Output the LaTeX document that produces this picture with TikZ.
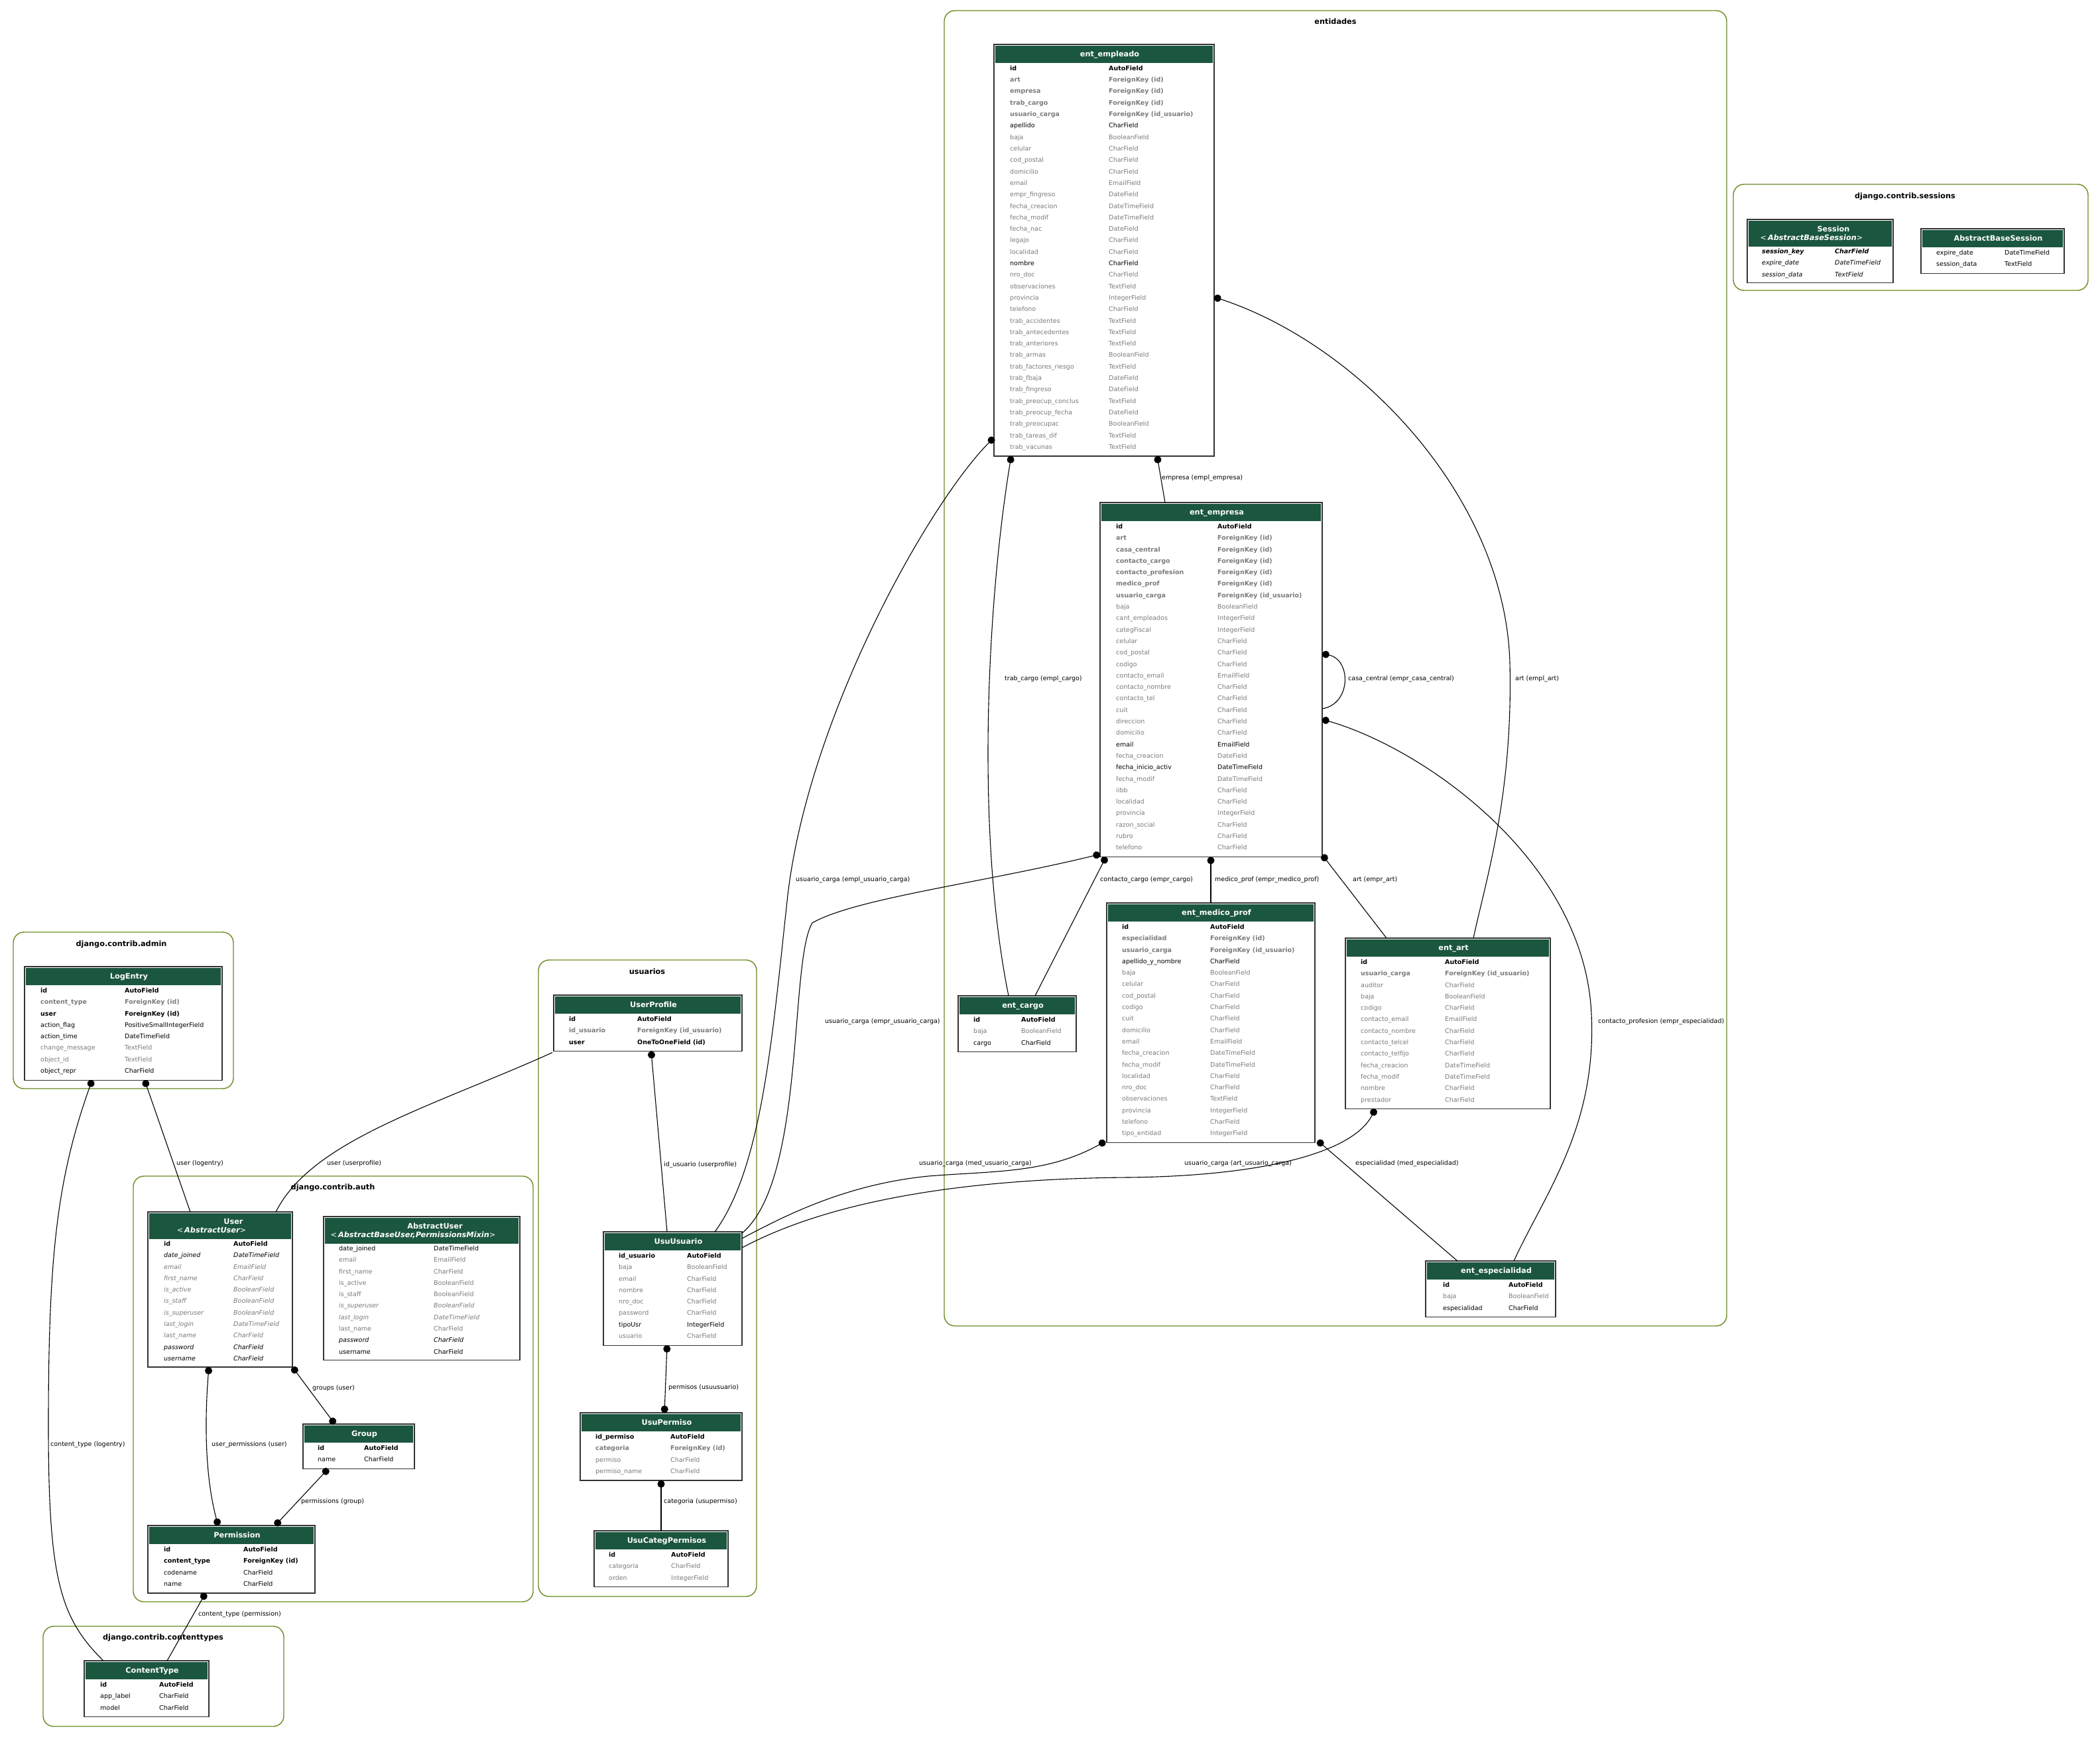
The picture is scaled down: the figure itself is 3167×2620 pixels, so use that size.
\documentclass[tikz,border=0pt]{standalone}
\usepackage{fontspec}
\setmainfont{DejaVu Sans}
\usetikzlibrary{arrows.meta,calc}

\definecolor{hdrgreen}{HTML}{1B563F}
\definecolor{fgray}{HTML}{7B7B7B}
\definecolor{clusterline}{HTML}{698B22}

% field kinds
\newcommand\rowPK{\bfseries}
\newcommand\rowFK{\bfseries\color{fgray}}
\newcommand\rowN{}
\newcommand\rowG{\color{fgray}}
\newcommand\rowI{\itshape}
\newcommand\rowIG{\itshape\color{fgray}}
\newcommand\rowBI{\bfseries\itshape}

\tikzset{
  tbox/.style={draw=black!80, line width=1.2pt, fill=white, inner sep=0pt, outer sep=0pt},
  hdrfill/.style={fill=hdrgreen},
  hdrtext/.style={text=white, font=\fontsize{11.3}{13}\selectfont\bfseries, inner sep=0pt},
  cell/.style={font=\fontsize{9.5}{11}\selectfont, inner sep=0pt},
  clusterbox/.style={draw=clusterline, line width=1.4pt, rounded corners=16pt},
  clustertitle/.style={font=\fontsize{11.3}{13}\selectfont\bfseries, inner sep=0pt, anchor=base},
  conn/.style={draw=black, line width=1.1pt},
  fkconn/.style={conn, {Circle[length=11pt]}-},
  mmconn/.style={conn, {Circle[length=11pt]}-{Circle[length=11pt]}},
  elabel/.style={font=\fontsize{9.5}{11}\selectfont, inner sep=0pt, anchor=west},
}

% box with header band: name, x, y, width, height, header height
\newcommand{\tablebox}[6]{%
  \node[tbox, minimum width=#4, minimum height=#5, anchor=north west] (#1) at (#2,#3) {};
  \fill[hdrfill] ($(#1.north west)+(2,2)$) rectangle ($(#1.north east)+(-2,#6)$);
}
% header text: name, x centre, baseline y, text
\newcommand{\tabletitle}[4]{%
  \node[hdrtext, anchor=base] (#1) at (#2,#3) {#4};
}
% field rows: name, x of key column, x of type column, first row centre, rows
\newcommand{\tablerows}[5]{%
  \foreach \st/\ka/\kb [count=\i from 0] in {#5}{
    \node[cell, anchor=base west] (#1-k\i) at (#2, {#4+\i*17.3+3.4}) {\st\ka};
    \node[cell, anchor=base west] (#1-t\i) at (#3, {#4+\i*17.3+3.4}) {\st\kb};
  }%
}

\begin{document}
\begin{tikzpicture}[x=1pt, y=-1pt]
\fill[white] (0,0) rectangle (3167,2620);
\useasboundingbox (0,0) rectangle (3167,2620);

% ---------------- clusters ----------------
\draw[clusterbox] (1424,16) rectangle (2604,2000);
\node[clustertitle] (cl-ent) at (2014,37) {entidades};
\draw[clusterbox] (2614,278) rectangle (3149,438);
\node[clustertitle] (cl-ses) at (2873,299) {django.contrib.sessions};
\draw[clusterbox] (20,1406) rectangle (352,1642);
\node[clustertitle] (cl-adm) at (183,1427) {django.contrib.admin};
\draw[clusterbox] (812,1448) rectangle (1141,2408);
\node[clustertitle] (cl-usu) at (976,1469) {usuarios};
\draw[clusterbox] (201,1774) rectangle (804,2416);
\node[clustertitle] (cl-auth) at (502,1794) {django.contrib.auth};
\draw[clusterbox] (65,2453) rectangle (428,2604);
\node[clustertitle] (cl-ct) at (246,2473) {django.contrib.contenttypes};

% ---------------- entidades ----------------
\tablebox{empleado}{1499}{67}{332}{620.9}{28}
\tabletitle{empleado-h}{1673.5}{85.5}{ent\_empleado}
\tablerows{empleado}{1523}{1672}{103}{
  \rowPK/id/AutoField,
  \rowFK/art/ForeignKey (id),
  \rowFK/empresa/ForeignKey (id),
  \rowFK/trab\_cargo/ForeignKey (id),
  \rowFK/usuario\_carga/ForeignKey (id\_usuario),
  \rowN/apellido/CharField,
  \rowG/baja/BooleanField,
  \rowG/celular/CharField,
  \rowG/cod\_postal/CharField,
  \rowG/domicilio/CharField,
  \rowG/email/EmailField,
  \rowG/empr\_fingreso/DateField,
  \rowG/fecha\_creacion/DateTimeField,
  \rowG/fecha\_modif/DateTimeField,
  \rowG/fecha\_nac/DateField,
  \rowG/legajo/CharField,
  \rowG/localidad/CharField,
  \rowN/nombre/CharField,
  \rowG/nro\_doc/CharField,
  \rowG/observaciones/TextField,
  \rowG/provincia/IntegerField,
  \rowG/telefono/CharField,
  \rowG/trab\_accidentes/TextField,
  \rowG/trab\_antecedentes/TextField,
  \rowG/trab\_anteriores/TextField,
  \rowG/trab\_armas/BooleanField,
  \rowG/trab\_factores\_riesgo/TextField,
  \rowG/trab\_fbaja/DateField,
  \rowG/trab\_fingreso/DateField,
  \rowG/trab\_preocup\_conclus/TextField,
  \rowG/trab\_preocup\_fecha/DateField,
  \rowG/trab\_preocupac/BooleanField,
  \rowG/trab\_tareas\_dif/TextField,
  \rowG/trab\_vacunas/TextField}

\tablebox{empresa}{1659}{758}{335}{534.4}{28}
\tabletitle{empresa-h}{1835}{776.5}{ent\_empresa}
\tablerows{empresa}{1683}{1836}{794}{
  \rowPK/id/AutoField,
  \rowFK/art/ForeignKey (id),
  \rowFK/casa\_central/ForeignKey (id),
  \rowFK/contacto\_cargo/ForeignKey (id),
  \rowFK/contacto\_profesion/ForeignKey (id),
  \rowFK/medico\_prof/ForeignKey (id),
  \rowFK/usuario\_carga/ForeignKey (id\_usuario),
  \rowG/baja/BooleanField,
  \rowG/cant\_empleados/IntegerField,
  \rowG/categFiscal/IntegerField,
  \rowG/celular/CharField,
  \rowG/cod\_postal/CharField,
  \rowG/codigo/CharField,
  \rowG/contacto\_email/EmailField,
  \rowG/contacto\_nombre/CharField,
  \rowG/contacto\_tel/CharField,
  \rowG/cuit/CharField,
  \rowG/direccion/CharField,
  \rowG/domicilio/CharField,
  \rowN/email/EmailField,
  \rowG/fecha\_creacion/DateField,
  \rowN/fecha\_inicio\_activ/DateTimeField,
  \rowG/fecha\_modif/DateTimeField,
  \rowG/iibb/CharField,
  \rowG/localidad/CharField,
  \rowG/provincia/IntegerField,
  \rowG/razon\_social/CharField,
  \rowG/rubro/CharField,
  \rowG/telefono/CharField}

\tablebox{medico}{1669}{1362}{314}{361.4}{28}
\tabletitle{medico-h}{1834.5}{1380.5}{ent\_medico\_prof}
\tablerows{medico}{1692}{1825}{1398}{
  \rowPK/id/AutoField,
  \rowFK/especialidad/ForeignKey (id),
  \rowFK/usuario\_carga/ForeignKey (id\_usuario),
  \rowN/apellido\_y\_nombre/CharField,
  \rowG/baja/BooleanField,
  \rowG/celular/CharField,
  \rowG/cod\_postal/CharField,
  \rowG/codigo/CharField,
  \rowG/cuit/CharField,
  \rowG/domicilio/CharField,
  \rowG/email/EmailField,
  \rowG/fecha\_creacion/DateTimeField,
  \rowG/fecha\_modif/DateTimeField,
  \rowG/localidad/CharField,
  \rowG/nro\_doc/CharField,
  \rowG/observaciones/TextField,
  \rowG/provincia/IntegerField,
  \rowG/telefono/CharField,
  \rowG/tipo\_entidad/IntegerField}

\tablebox{art}{2029}{1415}{309}{257.6}{28}
\tabletitle{art-h}{2192}{1433.5}{ent\_art}
\tablerows{art}{2052}{2179}{1451}{
  \rowPK/id/AutoField,
  \rowFK/usuario\_carga/ForeignKey (id\_usuario),
  \rowG/auditor/CharField,
  \rowG/baja/BooleanField,
  \rowG/codigo/CharField,
  \rowG/contacto\_email/EmailField,
  \rowG/contacto\_nombre/CharField,
  \rowG/contacto\_telcel/CharField,
  \rowG/contacto\_telfijo/CharField,
  \rowG/fecha\_creacion/DateTimeField,
  \rowG/fecha\_modif/DateTimeField,
  \rowG/nombre/CharField,
  \rowG/prestador/CharField}

\tablebox{cargo}{1445}{1502}{178}{84.6}{28}
\tabletitle{cargo-h}{1542.5}{1520.5}{ent\_cargo}
\tablerows{cargo}{1468}{1540}{1538}{
  \rowPK/id/AutoField,
  \rowG/baja/BooleanField,
  \rowN/cargo/CharField}

\tablebox{especialidad}{2150}{1902}{196}{84.6}{28}
\tabletitle{especialidad-h}{2256.5}{1920.5}{ent\_especialidad}
\tablerows{especialidad}{2176}{2275}{1938}{
  \rowPK/id/AutoField,
  \rowG/baja/BooleanField,
  \rowN/especialidad/CharField}

% ---------------- sessions ----------------
\tablebox{session}{2635}{331}{220}{95.6}{41}
\tabletitle{session-h1}{2765}{349}{Session}
\tabletitle{session-h2}{2732}{362}{{\mdseries<\,}{\itshape AbstractBaseSession}{\mdseries>}}
\tablerows{session}{2657}{2767}{379}{
  \rowBI/session\_key/CharField,
  \rowI/expire\_date/DateTimeField,
  \rowI/session\_data/TextField}

\tablebox{absession}{2897}{345}{216}{67.3}{28}
\tabletitle{absession-h}{3013.5}{363.5}{AbstractBaseSession}
\tablerows{absession}{2920}{3023}{381}{
  \rowN/expire\_date/DateTimeField,
  \rowN/session\_data/TextField}

% ---------------- admin ----------------
\tablebox{logentry}{37}{1458}{298}{171.1}{28}
\tabletitle{logentry-h}{194.5}{1476.5}{LogEntry}
\tablerows{logentry}{61}{188}{1494}{
  \rowPK/id/AutoField,
  \rowFK/content\_type/ForeignKey (id),
  \rowPK/user/ForeignKey (id),
  \rowN/action\_flag/PositiveSmallIntegerField,
  \rowN/action\_time/DateTimeField,
  \rowG/change\_message/TextField,
  \rowG/object\_id/TextField,
  \rowN/object\_repr/CharField}

% ---------------- auth ----------------
\tablebox{user}{223}{1828}{218}{234}{41}
\tabletitle{user-h1}{352}{1846}{User}
\tabletitle{user-h2}{319}{1859}{{\mdseries<\,}{\itshape AbstractUser}{\mdseries>}}
\tablerows{user}{247}{352}{1876}{
  \rowPK/id/AutoField,
  \rowI/date\_joined/DateTimeField,
  \rowIG/email/EmailField,
  \rowIG/first\_name/CharField,
  \rowIG/is\_active/BooleanField,
  \rowIG/is\_staff/BooleanField,
  \rowIG/is\_superuser/BooleanField,
  \rowIG/last\_login/DateTimeField,
  \rowIG/last\_name/CharField,
  \rowI/password/CharField,
  \rowI/username/CharField}

\tablebox{abuser}{488}{1835}{296}{216.7}{41}
\tabletitle{abuser-h1}{656}{1853}{AbstractUser}
\tabletitle{abuser-h2}{623}{1866}{{\mdseries<\,}{\itshape AbstractBaseUser,PermissionsMixin}{\mdseries>}}
\tablerows{abuser}{511}{654}{1883}{
  \rowN/date\_joined/DateTimeField,
  \rowG/email/EmailField,
  \rowG/first\_name/CharField,
  \rowG/is\_active/BooleanField,
  \rowG/is\_staff/BooleanField,
  \rowIG/is\_superuser/BooleanField,
  \rowIG/last\_login/DateTimeField,
  \rowG/last\_name/CharField,
  \rowI/password/CharField,
  \rowN/username/CharField}

\tablebox{group}{457}{2148}{168}{67.3}{28}
\tabletitle{group-h}{549.5}{2166.5}{Group}
\tablerows{group}{479}{549}{2184}{
  \rowPK/id/AutoField,
  \rowN/name/CharField}

\tablebox{permission}{223}{2301}{252}{101.9}{28}
\tabletitle{permission-h}{357.5}{2319.5}{Permission}
\tablerows{permission}{247}{367}{2337}{
  \rowPK/id/AutoField,
  \rowPK/content\_type/ForeignKey (id),
  \rowN/codename/CharField,
  \rowN/name/CharField}

% ---------------- contenttypes ----------------
\tablebox{contenttype}{127}{2505}{188}{84.6}{28}
\tabletitle{contenttype-h}{229.5}{2523.5}{ContentType}
\tablerows{contenttype}{151}{240}{2541}{
  \rowPK/id/AutoField,
  \rowN/app\_label/CharField,
  \rowN/model/CharField}

% ---------------- usuarios ----------------
\tablebox{userprofile}{835}{1501}{284}{84.6}{28}
\tabletitle{userprofile-h}{985.5}{1519.5}{UserProfile}
\tablerows{userprofile}{858}{961}{1537}{
  \rowPK/id/AutoField,
  \rowFK/id\_usuario/ForeignKey (id\_usuario),
  \rowPK/user/OneToOneField (id)}

\tablebox{usuusuario}{910}{1858}{209}{171.1}{28}
\tabletitle{usuusuario-h}{1023}{1876.5}{UsuUsuario}
\tablerows{usuusuario}{933}{1036}{1894}{
  \rowPK/id\_usuario/AutoField,
  \rowG/baja/BooleanField,
  \rowG/email/CharField,
  \rowG/nombre/CharField,
  \rowG/nro\_doc/CharField,
  \rowG/password/CharField,
  \rowN/tipoUsr/IntegerField,
  \rowG/usuario/CharField}

\tablebox{usupermiso}{875}{2131}{244}{101.9}{28}
\tabletitle{usupermiso-h}{1005.5}{2149.5}{UsuPermiso}
\tablerows{usupermiso}{898}{1011}{2167}{
  \rowPK/id\_permiso/AutoField,
  \rowFK/categoria/ForeignKey (id),
  \rowG/permiso/CharField,
  \rowG/permiso\_name/CharField}

\tablebox{usucateg}{896}{2309}{202}{84.6}{28}
\tabletitle{usucateg-h}{1005.5}{2327.5}{UsuCategPermisos}
\tablerows{usucateg}{918}{1012}{2345}{
  \rowPK/id/AutoField,
  \rowG/categoria/CharField,
  \rowG/orden/IntegerField}

% ---------------- relations ----------------
% ent_empleado
\draw[fkconn] ($(empleado.south west)+(246,0)$) -- ($(empresa.north west)+(98,0)$);
\node[elabel] (l-empl-empresa) at (1752,721) {empresa (empl\_empresa)};

\draw[fkconn] ($(empleado.south west)+(26,0)$) .. controls (1490,900) and (1470,1250) .. ($(cargo.north west)+(76,0)$);
\node[elabel] (l-empl-cargo) at (1515,1024) {trab\_cargo (empl\_cargo)};

\draw[fkconn] ($(empleado.north west)+(0,593)$) .. controls (1400,760) and (1220,1080) .. (1188,1350)
  .. controls (1165,1560) and (1150,1760) .. ($(usuusuario.north west)+(168,0)$);
\node[elabel] (l-empl-usu) at (1200,1327) {usuario\_carga (empl\_usuario\_carga)};

\draw[fkconn] ($(empleado.north east)+(0,381)$) .. controls (2050,520) and (2270,750) .. (2277,1000)
  .. controls (2282,1200) and (2240,1330) .. ($(art.north west)+(193,0)$);
\node[elabel] (l-empl-art) at (2285,1024) {art (empl\_art)};

% ent_empresa
\draw[fkconn] ($(empresa.north east)+(0,228)$) .. controls (2038,995) and (2038,1062) .. ($(empresa.north east)+(0,311)$);
\node[elabel] (l-empr-casa) at (2033,1024) {casa\_central (empr\_casa\_central)};

\draw[fkconn] ($(empresa.north east)+(0,327)$) .. controls (2150,1130) and (2390,1300) .. (2400,1530)
  .. controls (2408,1700) and (2330,1800) .. ($(especialidad.north west)+(133,0)$);
\node[elabel] (l-empr-esp) at (2410,1541) {contacto\_profesion (empr\_especialidad)};

\draw[fkconn] ($(empresa.south east)+(0,-3)$) -- ($(art.north west)+(62,0)$);
\node[elabel] (l-empr-art) at (2040,1327) {art (empr\_art)};

\draw[fkconn] ($(empresa.south west)+(167,0)$) -- ($(medico.north west)+(157,0)$);
\node[elabel] (l-empr-med) at (1832,1327) {medico\_prof (empr\_medico\_prof)};

\draw[fkconn] ($(empresa.south west)+(9,0)$) -- ($(cargo.north west)+(116,0)$);
\node[elabel] (l-empr-cargo) at (1659,1327) {contacto\_cargo (empr\_cargo)};

\draw[fkconn] ($(empresa.south west)+(0,-4)$) .. controls (1480,1332) and (1290,1355) .. (1225,1392)
  .. controls (1190,1450) and (1215,1780) .. ($(usuusuario.north east)+(0,2)$);
\node[elabel] (l-empr-usu) at (1244,1541) {usuario\_carga (empr\_usuario\_carga)};

% ent_medico_prof
\draw[fkconn] ($(medico.south west)+(-2,-2)$) .. controls (1580,1770) and (1500,1766) .. (1400,1774)
  .. controls (1280,1786) and (1190,1830) .. ($(usuusuario.north east)+(0,10)$);
\node[elabel] (l-med-usu) at (1386,1755) {usuario\_carga (med\_usuario\_carga)};

\draw[fkconn] ($(medico.south east)+(4,-3)$) -- ($(especialidad.north west)+(48,0)$);
\node[elabel] (l-med-esp) at (2044,1755) {especialidad (med\_especialidad)};

% ent_art
\draw[fkconn] ($(art.south west)+(45,0)$) .. controls (2040,1740) and (1900,1774) .. (1700,1776)
  .. controls (1450,1778) and (1250,1812) .. ($(usuusuario.north east)+(0,24)$);
\node[elabel] (l-art-usu) at (1786,1755) {usuario\_carga (art\_usuario\_carga)};

% usuarios
\draw[fkconn] ($(userprofile.south west)+(147,0)$) -- ($(usuusuario.north west)+(96,0)$);
\node[elabel] (l-prof-usu) at (1001,1757) {id\_usuario (userprofile)};

\draw[conn] ($(userprofile.south west)+(-2,2)$) .. controls (650,1670) and (470,1720) .. ($(user.north west)+(193,0)$);
\node[elabel] (l-prof-user) at (493,1755) {user (userprofile)};

\draw[mmconn] ($(usuusuario.south west)+(96,0)$) -- ($(usupermiso.north west)+(127,0)$);
\node[elabel] (l-usu-perm) at (1008,2093) {permisos (usuusuario)};

\draw[fkconn] ($(usupermiso.south west)+(122,0)$) -- ($(usucateg.north west)+(101,0)$);
\node[elabel] (l-perm-cat) at (1001,2265) {categoria (usupermiso)};

% admin / auth / contenttypes
\draw[fkconn] ($(logentry.south west)+(181,0)$) -- ($(user.north west)+(64,0)$);
\node[elabel] (l-log-user) at (266,1755) {user (logentry)};

\draw[fkconn] ($(logentry.south west)+(102,0)$) .. controls (85,1780) and (73,1900) .. (73,2150)
  .. controls (73,2380) and (90,2440) .. ($(contenttype.north west)+(29,0)$);
\node[elabel] (l-log-ct) at (76,2179) {content\_type (logentry)};

\draw[mmconn] (user.south east) -- ($(group.north west)+(48,0)$);
\node[elabel] (l-user-group) at (471,2094) {groups (user)};

\draw[mmconn] ($(user.south west)+(92,0)$) .. controls (308,2150) and (310,2230) .. ($(permission.north west)+(106,0)$);
\node[elabel] (l-user-perm) at (319,2179) {user\_permissions (user)};

\draw[mmconn] ($(group.south west)+(38,0)$) -- ($(permission.north west)+(192,0)$);
\node[elabel] (l-group-perm) at (454,2265) {permissions (group)};

\draw[fkconn] ($(permission.south west)+(87,0)$) -- ($(contenttype.north west)+(125,0)$);
\node[elabel] (l-perm-ct) at (299,2435) {content\_type (permission)};

\end{tikzpicture}
\end{document}
